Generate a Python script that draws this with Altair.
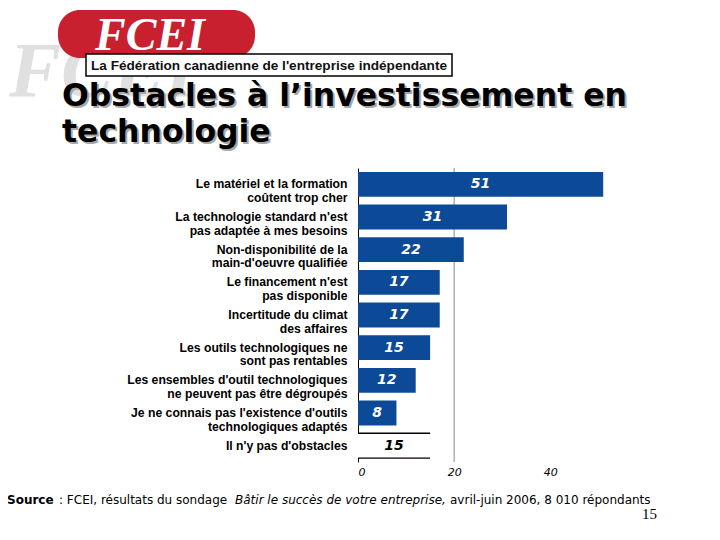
import altair as alt
import pandas as pd

# ---------------- data ----------------
categories = [
    "Le matériel et la formation|coûtent trop cher",
    "La technologie standard n'est|pas adaptée à mes besoins",
    "Non-disponibilité de la|main-d'oeuvre qualifiée",
    "Le financement n'est|pas disponible",
    "Incertitude du climat|des affaires",
    "Les outils technologiques ne|sont pas rentables",
    "Les ensembles d'outil technologiques|ne peuvent pas être dégroupés",
    "Je ne connais pas l'existence d'outils|technologiques adaptés",
    "Il n'y pas d'obstacles",
]
values = [51, 31, 22, 17, 17, 15, 12, 8, 15]
kinds = ["obstacle"] * 8 + ["none"]
x_ticks = [0, 20, 40]
grid_at = [20]

title_line1 = "Obstacles à l’investissement en"
title_line2 = "technologie"
logo_text = "FCEI"
logo_sub = "La Fédération canadienne de l'entreprise indépendante"
src_bold = "Source"
src_plain = ": FCEI, résultats du sondage"
src_italic = "Bâtir le succès de votre entreprise,"
src_tail = "avril-juin 2006, 8 010 répondants"
page_no = "15"

df = pd.DataFrame({"cat": categories, "val": values, "kind": kinds})

# ---------------- layout ----------------
W, H = 250, 294
X0, Y0 = 358, 168  # page position of the plot origin


def px(x):
    return x - X0


def py(y):
    return y - Y0


BLUE = "#0C4A97"

y_axis = alt.Axis(
    title=None, ticks=False, domain=True, domainColor="black", domainWidth=1,
    labelExpr="split(datum.label, '|')", labelFont="Liberation Sans",
    labelFontWeight="bold", labelFontSize=12.2, labelColor="black",
    labelPadding=11, labelLimit=320, labelLineHeight=13.5,
)
y_scale = alt.Scale(paddingInner=0.24, paddingOuter=0.12)
x_scale = alt.Scale(domain=[0, 52], nice=False)
x_axis = alt.Axis(
    values=x_ticks, title=None, ticks=False, domain=False, grid=False,
    labelFont="DejaVu Sans", labelFontStyle="italic", labelFontSize=11,
    labelColor="black", labelPadding=4,
)

base = alt.Chart(df)

grid = alt.Chart(pd.DataFrame({"g": grid_at})).mark_rule(
    color="#8a8a8a", strokeWidth=1
).encode(x=alt.X("g:Q", scale=x_scale, axis=x_axis))

bars = base.mark_bar().encode(
    x=alt.X("val:Q", scale=x_scale, axis=x_axis),
    y=alt.Y("cat:N", sort=categories, scale=y_scale, axis=y_axis),
    color=alt.condition("datum.kind == 'none'", alt.value("white"), alt.value(BLUE)),
)

edge_top = base.transform_filter("datum.kind == 'none'").transform_calculate(
    zero="0"
).mark_rule(color="black", strokeWidth=1.3).encode(
    x=alt.X("zero:Q", scale=x_scale),
    x2="val:Q",
    y=alt.Y("cat:N", sort=categories, scale=y_scale, bandPosition=0),
)
edge_bot = base.transform_filter("datum.kind == 'none'").transform_calculate(
    zero="0"
).mark_rule(color="black", strokeWidth=1.3).encode(
    x=alt.X("zero:Q", scale=x_scale),
    x2="val:Q",
    y=alt.Y("cat:N", sort=categories, scale=y_scale, bandPosition=1),
)

labels = base.transform_calculate(mid="datum.val / 2").mark_text(
    font="DejaVu Sans", fontWeight="bold", fontStyle="italic", fontSize=14,
    baseline="middle", align="center",
).encode(
    x=alt.X("mid:Q", scale=x_scale),
    y=alt.Y("cat:N", sort=categories, scale=y_scale),
    text="val:Q",
    color=alt.condition("datum.kind == 'none'", alt.value("black"), alt.value("white")),
)

one = alt.Chart(pd.DataFrame({"a": [0]}))

watermark = one.mark_text(
    text=logo_text, font="Liberation Serif", fontWeight="bold", fontStyle="italic",
    fontSize=78, color="#e0e0e0", align="left", baseline="alphabetic",
).encode(x=alt.value(px(9)), y=alt.value(py(96)))

logo_rect = one.mark_rect(cornerRadius=22, color="#C8202F").encode(
    x=alt.value(px(58)), x2=alt.value(px(255)), y=alt.value(py(10)), y2=alt.value(py(58))
)
logo_txt = one.mark_text(
    text=logo_text, font="Liberation Serif", fontWeight="bold", fontStyle="italic",
    fontSize=46, color="white", align="center", baseline="alphabetic",
).encode(x=alt.value(px(150)), y=alt.value(py(50)))

sub_box = one.mark_rect(fill="white", stroke="black", strokeWidth=1.5).encode(
    x=alt.value(px(86)), x2=alt.value(px(452)), y=alt.value(py(54)), y2=alt.value(py(76))
)
sub_txt = one.mark_text(
    text=logo_sub, font="Liberation Sans", fontWeight="bold", fontSize=13.6,
    color="#111111", align="center", baseline="middle",
).encode(x=alt.value(px(269)), y=alt.value(py(66)))


def title_layers(text, x, y):
    shadow = one.mark_text(
        text=text, font="DejaVu Sans", fontWeight="bold", fontSize=31.5,
        color="#a8a8a8", align="left", baseline="alphabetic",
    ).encode(x=alt.value(px(x + 2)), y=alt.value(py(y + 2)))
    main = one.mark_text(
        text=text, font="DejaVu Sans", fontWeight="bold", fontSize=31.5,
        color="black", align="left", baseline="alphabetic",
    ).encode(x=alt.value(px(x)), y=alt.value(py(y)))
    return [shadow, main]


t1 = title_layers(title_line1, 62, 106)
t2 = title_layers(title_line2, 62, 142)


def src(text, x, weight="normal", style="normal"):
    return one.mark_text(
        text=text, font="DejaVu Sans", fontSize=12, fontWeight=weight,
        fontStyle=style, color="black", align="left", baseline="alphabetic",
    ).encode(x=alt.value(px(x)), y=alt.value(py(504)))


s1 = src(src_bold, 7, weight="bold")
s2 = src(src_plain, 59)
s3 = src(src_italic, 235, style="italic")
s4 = src(src_tail, 450)
pg = one.mark_text(
    text=page_no, font="Liberation Serif", fontSize=15, color="black",
    align="right", baseline="alphabetic",
).encode(x=alt.value(px(657)), y=alt.value(py(519)))

chart = alt.layer(
    watermark, logo_rect, logo_txt, sub_box, sub_txt, *t1, *t2,
    grid, bars, edge_top, edge_bot, labels, s1, s2, s3, s4, pg,
).properties(
    width=W, height=H,
    autosize=alt.AutoSizeParams(type="none"),
    padding={"left": 350, "top": 160, "right": 104, "bottom": 70},
).configure(background="white").configure_view(stroke=None)

chart.save("out.html", embed_options={"renderer": "svg", "actions": False})
